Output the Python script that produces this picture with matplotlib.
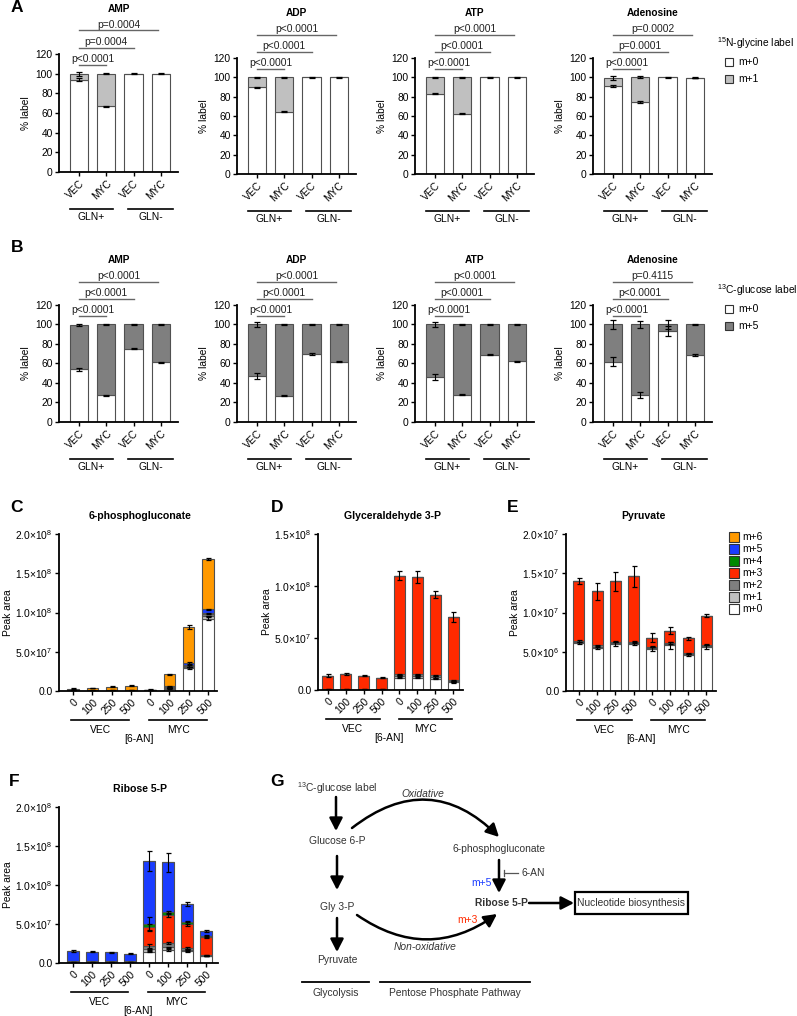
import matplotlib
matplotlib.use("Agg")
import matplotlib.pyplot as plt
from matplotlib.patches import Rectangle
from matplotlib.transforms import ScaledTranslation
import numpy as np

plt.rcParams["font.family"] = ["Liberation Sans", "DejaVu Sans"]
plt.rcParams["mathtext.fontset"] = "custom"
plt.rcParams["mathtext.rm"] = "Liberation Sans"
plt.rcParams["mathtext.it"] = "Liberation Sans:italic"
plt.rcParams["mathtext.bf"] = "Liberation Sans:bold"

W, H = 797, 1016
FS = 7.4

# ---------------- data ----------------
nuc_names = ["AMP", "ADP", "ATP", "Adenosine"]
nuc_ticks = ["VEC", "MYC", "VEC", "MYC"]
gln_groups = ["GLN+", "GLN-"]

# A: 15N-glycine label (% of pool), order VEC/MYC GLN+, VEC/MYC GLN-
gly_m0 = [[94.0, 67.0, 100.0, 100.0], [89.5, 64.5, 100.0, 100.0],
          [83.0, 62.5, 100.0, 100.0], [91.0, 74.5, 100.0, 99.5]]
gly_m0_err = [[1.5, 0.5, 0.3, 0.3], [0.6, 0.5, 0.3, 0.3],
              [0.5, 0.5, 0.3, 0.3], [1.5, 1.5, 0.3, 0.3]]
gly_m1 = [[5.5, 33.0, 0.0, 0.0], [10.5, 35.5, 0.0, 0.0],
          [17.0, 37.5, 0.0, 0.0], [8.5, 25.5, 0.0, 0.3]]
gly_m1_err = [[2.0, 0.4, 0.0, 0.0], [0.5, 0.4, 0.0, 0.0],
              [0.4, 0.4, 0.0, 0.0], [2.0, 1.2, 0.0, 0.6]]
gly_p = [["p<0.0001", "p=0.0004", "p=0.0004"], ["p<0.0001", "p<0.0001", "p<0.0001"],
         ["p<0.0001", "p<0.0001", "p<0.0001"], ["p<0.0001", "p=0.0001", "p=0.0002"]]

# B: 13C-glucose label
glc_m0 = [[54.0, 27.5, 75.0, 61.5], [47.0, 27.0, 70.0, 62.0],
          [46.5, 28.0, 69.0, 62.5], [62.0, 28.0, 93.0, 69.0]]
glc_m0_err = [[1.5, 0.5, 0.5, 0.5], [3.0, 0.5, 1.0, 0.5],
              [3.0, 0.5, 0.5, 0.5], [4.5, 3.0, 5.0, 0.8]]
glc_m5 = [[45.5, 72.5, 25.0, 38.5], [53.0, 73.0, 30.0, 38.0],
          [53.5, 72.0, 31.0, 37.5], [38.0, 72.0, 7.0, 31.0]]
glc_m5_err = [[1.5, 0.4, 0.4, 0.4], [3.0, 0.4, 0.8, 0.4],
              [3.0, 0.4, 0.4, 0.4], [4.5, 3.5, 4.5, 0.6]]
glc_p = [["p<0.0001", "p<0.0001", "p<0.0001"], ["p<0.0001", "p<0.0001", "p<0.0001"],
         ["p<0.0001", "p<0.0001", "p<0.0001"], ["p<0.0001", "p<0.0001", "p=0.4115"]]

# C-F: isotopologue peak areas, 6-AN dose 0/100/250/500 for VEC then MYC
dose_ticks = ["0", "100", "250", "500"] * 2
iso_names = ["m+0", "m+1", "m+2", "m+3", "m+4", "m+5", "m+6"]

# 6-phosphogluconate (x1e7)
pg_vals = [[0.05, 0.05, 0.05, 0.05, 0.05, 0.30, 2.90, 9.20],
           [0.02, 0.02, 0.02, 0.02, 0.02, 0.05, 0.15, 0.35],
           [0.02, 0.02, 0.02, 0.02, 0.02, 0.10, 0.15, 0.30],
           [0.02, 0.02, 0.02, 0.02, 0.02, 0.05, 0.05, 0.05],
           [0.01, 0.01, 0.01, 0.01, 0.01, 0.02, 0.05, 0.10],
           [0.03, 0.03, 0.03, 0.03, 0.02, 0.10, 0.30, 0.40],
           [0.15, 0.25, 0.40, 0.55, 0.05, 1.50, 4.60, 6.40]]
pg_errs = [[0, 0, 0, 0, 0, 0.05, 0.15, 0.20],
           [0, 0, 0, 0, 0, 0.03, 0.05, 0.05],
           [0.02, 0.02, 0.02, 0.02, 0.02, 0.05, 0.10, 0.10],
           [0, 0, 0, 0, 0, 0, 0, 0],
           [0, 0, 0, 0, 0, 0, 0, 0],
           [0, 0, 0, 0, 0, 0.05, 0.10, 0.10],
           [0.03, 0.03, 0.04, 0.05, 0.02, 0.10, 0.25, 0.15]]

# Glyceraldehyde 3-P (x1e7)
gap_vals = [[0.05, 0.05, 0.05, 0.05, 1.20, 1.20, 1.10, 0.75],
            [0.02, 0.02, 0.02, 0.02, 0.15, 0.15, 0.15, 0.10],
            [0.02, 0.02, 0.02, 0.02, 0.15, 0.15, 0.15, 0.10],
            [1.30, 1.45, 1.30, 1.10, 9.50, 9.35, 7.75, 6.05],
            [0, 0, 0, 0, 0, 0, 0, 0],
            [0, 0, 0, 0, 0, 0, 0, 0],
            [0, 0, 0, 0, 0, 0, 0, 0]]
gap_errs = [[0, 0, 0, 0, 0.05, 0.05, 0.05, 0.05],
            [0, 0, 0, 0, 0.05, 0.05, 0.05, 0.05],
            [0.02, 0.02, 0.02, 0.02, 0.08, 0.08, 0.08, 0.05],
            [0.15, 0.05, 0.05, 0.05, 0.40, 0.55, 0.35, 0.50],
            [0, 0, 0, 0, 0, 0, 0, 0],
            [0, 0, 0, 0, 0, 0, 0, 0],
            [0, 0, 0, 0, 0, 0, 0, 0]]

# Pyruvate (x1e6)
pyr_vals = [[6.10, 5.50, 6.00, 6.00, 5.35, 5.80, 4.60, 5.60],
            [0.15, 0.15, 0.15, 0.15, 0.15, 0.15, 0.10, 0.15],
            [0.15, 0.15, 0.15, 0.15, 0.15, 0.15, 0.10, 0.15],
            [7.60, 6.90, 7.70, 8.30, 1.15, 1.60, 1.90, 3.70],
            [0, 0, 0, 0, 0, 0, 0, 0],
            [0, 0, 0, 0, 0, 0, 0, 0],
            [0, 0, 0, 0, 0, 0, 0, 0]]
pyr_errs = [[0.15, 0.15, 0.30, 0.15, 0.20, 0.50, 0.15, 0.20],
            [0, 0, 0, 0, 0, 0, 0, 0],
            [0.10, 0.10, 0.10, 0.10, 0.10, 0.10, 0.10, 0.10],
            [0.35, 1.05, 1.20, 1.30, 0.55, 0.50, 0.20, 0.15],
            [0, 0, 0, 0, 0, 0, 0, 0],
            [0, 0, 0, 0, 0, 0, 0, 0],
            [0, 0, 0, 0, 0, 0, 0, 0]]

# Ribose 5-P (x1e7)
r5p_vals = [[0.05, 0.05, 0.05, 0.05, 1.45, 1.65, 1.50, 0.90],
            [0.02, 0.02, 0.02, 0.02, 0.30, 0.35, 0.20, 0.05],
            [0.03, 0.03, 0.03, 0.03, 0.45, 0.55, 0.20, 0.05],
            [0.15, 0.15, 0.15, 0.15, 2.40, 3.60, 3.10, 2.30],
            [0.02, 0.02, 0.02, 0.02, 0.40, 0.35, 0.20, 0.15],
            [1.23, 1.18, 1.08, 0.93, 8.10, 6.40, 2.35, 0.65],
            [0, 0, 0, 0, 0, 0, 0, 0]]
r5p_errs = [[0, 0, 0, 0, 0.10, 0.10, 0.05, 0.05],
            [0, 0, 0, 0, 0.10, 0.10, 0.05, 0.05],
            [0.02, 0.02, 0.02, 0.02, 0.30, 0.15, 0.10, 0.05],
            [0, 0, 0, 0, 0.40, 0.20, 0.20, 0.10],
            [0, 0, 0, 0, 0.90, 0.20, 0.20, 0.10],
            [0.15, 0.10, 0.10, 0.10, 1.30, 1.20, 0.25, 0.10],
            [0, 0, 0, 0, 0, 0, 0, 0]]

# ---------------- styles ----------------
WHITE, LIGHT, DARK = "#ffffff", "#c0c0c0", "#7f7f7f"
iso_colors = [WHITE, LIGHT, DARK, "#ff2a00", "#008a00", "#1a3cff", "#ff9900"]
EDGE = "#505050"

fig = plt.figure(figsize=(W / 100, H / 100), dpi=100)
ov = fig.add_axes([0, 0, 1, 1])
ov.set_xlim(0, W)
ov.set_ylim(H, 0)
ov.axis("off")


def px_axes(x0, x1, ytop, ybot):
    return fig.add_axes([x0 / W, 1 - ybot / H, (x1 - x0) / W, (ybot - ytop) / H])


def style(ax):
    for s in ["top", "right"]:
        ax.spines[s].set_visible(False)
    for s in ["left", "bottom"]:
        ax.spines[s].set_linewidth(1.3)
    ax.tick_params(direction="out", length=3, width=1, labelsize=FS, pad=1.5)


def below(ax, px):
    return ax.get_xaxis_transform() + ScaledTranslation(0, -px / 100, fig.dpi_scale_trans)


def stacked(ax, vals, errs, colors, width, scale, cap):
    x = np.arange(len(vals[0]))
    bottom = np.zeros(len(x))
    for seg, err, col in zip(vals, errs, colors):
        seg = np.asarray(seg, float) * scale
        ax.bar(x, seg, width, bottom=bottom, color=col, edgecolor=EDGE, linewidth=0.8, zorder=2)
        top = bottom + seg
        e = np.asarray(err, float) * scale
        m = e > 0
        if m.any():
            ax.errorbar(x[m], top[m], yerr=e[m], fmt="none", ecolor="k", elinewidth=0.8,
                        capsize=cap, capthick=0.9, zorder=3)
        bottom = top


def sci(v):
    if v == 0:
        return "0.0"
    e = int(np.floor(np.log10(v)))
    return f"{v / 10 ** e:.1f}\u00d710$^{{{e}}}$"


# ---------------- panels A and B ----------------
def nucleotide_row(boxes, m0, m0e, m1, m1e, col1, pvals):
    for i, name in enumerate(nuc_names):
        x0, x1, yt, yb = boxes[i]
        ax = px_axes(x0, x1, yt, yb)
        stacked(ax, [m0[i], m1[i]], [m0e[i], m1e[i]], [WHITE, col1], 0.67, 1.0, 2.5)
        style(ax)
        ax.set_xlim(-0.73, 3.63)
        ax.set_ylim(0, 120)
        ax.set_yticks(range(0, 121, 20))
        ax.set_xticks(range(4))
        ax.set_xticklabels(nuc_ticks, rotation=45, ha="right", rotation_mode="anchor")
        ax.set_ylabel("% label", fontsize=FS, labelpad=3)
        for end, yl, p in zip([1.0, 2.0, 2.9], [109, 126.5, 144], pvals[i]):
            ax.plot([0, end], [yl, yl], color="#666666", lw=1, clip_on=False)
            ax.text(end / 2, yl + 0.8, p, ha="center", va="bottom", fontsize=FS, color="#222222",
                    clip_on=False)
        for (a, b), g in zip([(-0.33, 1.26), (1.81, 3.44)], gln_groups):
            ax.plot([a, b], [0, 0], color="k", lw=1.2, transform=below(ax, 37), clip_on=False)
            ax.text((a + b) / 2, 0, g, ha="center", va="center", fontsize=FS,
                    transform=below(ax, 45))
        ov.text((x0 + x1) / 2, yt - 45, name, ha="center", va="center", fontsize=7.3,
                fontweight="bold")


nucleotide_row([(59, 178, 54, 172), (237, 356, 58, 174), (415, 534, 58, 174), (593, 712, 58, 174)],
               gly_m0, gly_m0_err, gly_m1, gly_m1_err, LIGHT, gly_p)
nucleotide_row([(59, 178, 305, 422), (237, 356, 305, 422), (415, 534, 305, 422), (593, 712, 305, 422)],
               glc_m0, glc_m0_err, glc_m5, glc_m5_err, DARK, glc_p)


def small_legend(x, y, title, labels, colors):
    ov.text(x, y, title, ha="left", va="center", fontsize=FS)
    for k, (lab, col) in enumerate(zip(labels, colors)):
        yy = y + 19 + 17 * k
        ov.add_patch(Rectangle((x + 8, yy - 4), 8, 8, facecolor=col, edgecolor="#333333", lw=0.8))
        ov.text(x + 21, yy, lab, ha="left", va="center", fontsize=FS)


small_legend(717, 43, "$^{15}$N-glycine label", ["m+0", "m+1"], [WHITE, LIGHT])
small_legend(717, 290, "$^{13}$C-glucose label", ["m+0", "m+5"], [WHITE, DARK])

# ---------------- panels C-F ----------------
def iso_panel(box, vals, errs, scale, ymax, step, xlim, title):
    x0, x1, yt, yb = box
    ax = px_axes(x0, x1, yt, yb)
    stacked(ax, vals, errs, iso_colors, 0.6, scale, 1.8)
    style(ax)
    ax.set_xlim(*xlim)
    ax.set_ylim(0, ymax)
    ticks = np.arange(0, ymax + step / 2, step)
    ax.set_yticks(ticks)
    ax.set_yticklabels([sci(t) for t in ticks])
    ax.set_xticks(range(8))
    ax.set_xticklabels(dose_ticks, rotation=45, ha="right", rotation_mode="anchor")
    ax.set_ylabel("Peak area", fontsize=FS, labelpad=2)
    for (a, b), g in zip([(-0.1, 2.9), (3.95, 6.95)], ["VEC", "MYC"]):
        ax.plot([a, b], [0, 0], color="k", lw=1.2, transform=below(ax, 29), clip_on=False)
        ax.text((a + b) / 2, 0, g, ha="center", va="center", fontsize=FS, transform=below(ax, 39))
    ax.text(3.4, 0, "[6-AN]", ha="center", va="center", fontsize=FS, transform=below(ax, 48))
    ov.text((x0 + x1) / 2 + 2, yt - 18, title, ha="center", va="center", fontsize=7.6,
            fontweight="bold")
    return ax


iso_panel((59, 217, 534, 691), pg_vals, pg_errs, 1e7, 2e8, 5e7, (-0.73, 7.47), "6-phosphogluconate")
iso_panel((318, 463, 534, 690), gap_vals, gap_errs, 1e7, 1.5e8, 5e7, (-0.55, 7.55), "Glyceraldehyde 3-P")
iso_panel((566, 716, 534, 691), pyr_vals, pyr_errs, 1e6, 2e7, 5e6, (-0.71, 7.53), "Pyruvate")
iso_panel((59, 218, 807, 963), r5p_vals, r5p_errs, 1e7, 2e8, 5e7, (-0.74, 7.63), "Ribose 5-P")

for k in range(7):
    lab = iso_names[6 - k]
    yy = 537 + 12 * k
    ov.add_patch(Rectangle((729, yy - 5), 10, 10, facecolor=iso_colors[6 - k], edgecolor="#333333", lw=0.8))
    ov.text(742, yy, lab, ha="left", va="center", fontsize=FS)

# panel letters
for s, x, y in [("A", 17, 8), ("B", 17, 247), ("C", 17, 508), ("D", 277, 508),
                ("E", 513, 508), ("F", 14, 782), ("G", 277, 782)]:
    ov.text(x, y, s, ha="center", va="center", fontsize=12.5, fontweight="bold")

# ---------------- panel G: pathway ----------------
TC = "#333333"
arrow = dict(arrowstyle="-|>,head_length=0.7,head_width=0.36", lw=1.8, color="k",
             mutation_scale=11, shrinkA=0, shrinkB=0)


def arr(p0, p1, rad=0.0):
    props = dict(arrow)
    props["connectionstyle"] = f"arc3,rad={rad}"
    ov.annotate("", xy=p1, xytext=p0, arrowprops=props)


ov.text(337, 788, "$^{13}$C-glucose label", ha="center", va="center", fontsize=FS, color=TC)
arr((336, 797), (336, 831))
ov.text(337, 841, "Glucose 6-P", ha="center", va="center", fontsize=FS, color=TC)
arr((337, 856), (337, 890))
ov.text(337, 907, "Gly 3-P", ha="center", va="center", fontsize=FS, color=TC)
arr((337, 918), (337, 952))
ov.text(337, 960, "Pyruvate", ha="center", va="center", fontsize=FS, color=TC)

arr((352, 828), (499, 837), rad=-0.44)
ov.text(423, 794, "Oxidative", ha="center", va="center", fontsize=FS, style="italic", color=TC)
ov.text(499, 849, "6-phosphogluconate", ha="center", va="center", fontsize=FS, color=TC)
arr((499, 860), (499, 893))
ov.plot([504, 518], [873, 873], color="#555555", lw=0.9)
ov.plot([504, 504], [870, 876], color="#555555", lw=0.9)
ov.text(522, 873, "6-AN", ha="left", va="center", fontsize=FS, color=TC)
ov.text(492, 883, "m+5", ha="right", va="center", fontsize=FS, color="#1a3cff")
ov.text(501, 903, "Ribose 5-P", ha="center", va="center", fontsize=FS, fontweight="bold", color=TC)
arr((529, 903), (574, 903))
ov.add_patch(Rectangle((575, 892), 113, 22, facecolor="none", edgecolor="k", lw=1.6))
ov.text(631.5, 903, "Nucleotide biosynthesis", ha="center", va="center", fontsize=FS, color=TC)

arr((357, 915), (497, 914), rad=0.35)
ov.text(425, 947, "Non-oxidative", ha="center", va="center", fontsize=FS, style="italic", color=TC)
ov.text(467, 920, "m+3", ha="center", va="center", fontsize=FS, color="#ff2a00")

ov.plot([302, 369], [982, 982], color="k", lw=1.3)
ov.plot([380, 530], [982, 982], color="k", lw=1.3)
ov.text(336, 993, "Glycolysis", ha="center", va="center", fontsize=FS, color=TC)
ov.text(455, 993, "Pentose Phosphate Pathway", ha="center", va="center", fontsize=FS, color=TC)

fig.savefig("out.png", dpi=100)
